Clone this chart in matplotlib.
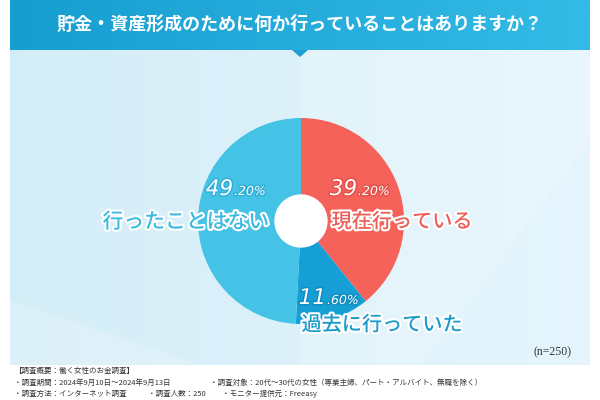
import matplotlib

matplotlib.use("Agg")

import matplotlib.pyplot as plt
import matplotlib.patheffects as pe
import numpy as np
from matplotlib.patches import Circle, Polygon

plt.rcParams["font.family"] = ["Noto Sans CJK JP", "DejaVu Sans"]

title = "貯金・資産形成のために何か行っていることはありますか？"
labels = ["現在行っている", "過去に行っていた", "行ったことはない"]
values = [39.2, 11.6, 49.2]
sample_note = "(n=250)"
footer_head = "【調査概要：働く女性のお金調査】"
footer_items = [
    ["・調査期間：2024年9月10日～2024年9月13日", "・調査対象：20代～30代の女性（専業主婦、パート・アルバイト、無職を除く）"],
    ["・調査方法：インターネット調査", "・調査人数：250", "・モニター提供元：Freeasy"],
]

slice_colors = ["#F5625A", "#159FD5", "#45C3E6"]
label_colors = ["#EC5F58", "#1C9BCB", "#3DBAE0"]
pct_edge = ["#E2504A", "#0F8DC0", "#2FAFD8"]

W, H = 600, 400
fig = plt.figure(figsize=(6, 4), dpi=100)
ax = fig.add_axes([0, 0, 1, 1])
ax.set_xlim(0, W)
ax.set_ylim(0, H)
ax.set_aspect("equal")
ax.axis("off")


def py(y):
    return H - y


# light background panel
grad = np.linspace(0, 1, 256)[None, :]
bg = np.ones((1, 256, 3))
c0 = np.array([0.83, 0.93, 0.97])
c1 = np.array([0.90, 0.96, 0.99])
bg[0] = c0 + (c1 - c0) * grad.T
ax.imshow(bg, extent=(10, 590, py(365), py(50)), aspect="auto", zorder=0)
ax.add_patch(Polygon([(300, py(50)), (590, py(50)), (590, py(140)), (420, py(365)), (300, py(365))],
                     closed=True, color="white", alpha=0.18, lw=0, zorder=0.5))
ax.add_patch(Polygon([(10, py(300)), (200, py(365)), (10, py(365))],
                     closed=True, color="white", alpha=0.2, lw=0, zorder=0.5))

# header band
hb = np.ones((1, 256, 3))
h0 = np.array([0.09, 0.62, 0.82])
h1 = np.array([0.20, 0.73, 0.90])
hb[0] = h0 + (h1 - h0) * grad.T
ax.imshow(hb, extent=(10, 590, py(50), py(0)), aspect="auto", zorder=1)
ax.add_patch(Polygon([(292, py(50)), (308, py(50)), (300, py(57))], closed=True,
                     color="#1D9FD2", lw=0, zorder=1))
ax.text(300, py(24), title, color="white", fontsize=13, fontweight="bold",
        ha="center", va="center", zorder=2)

# donut
cx, cy, r = 301, py(221), 103
ax.pie(values, colors=slice_colors, startangle=90, counterclock=False,
       center=(cx, cy), radius=r, frame=True,
       wedgeprops={"linewidth": 0, "antialiased": True})
ax.set_xlim(0, W)
ax.set_ylim(0, H)
ax.axis("off")
ax.add_patch(Circle((cx, cy), 26, color="white", zorder=5))

# labels
outline = [pe.Stroke(linewidth=3, foreground="white"), pe.Normal()]
label_pos = [(402, 222), (382, 325), (186, 222)]
label_size = [14.5, 14.5, 15]
for text, (x, y), col, fs in zip(labels, label_pos, label_colors, label_size):
    ax.text(x, py(y), text, color=col, fontsize=fs, fontweight="medium",
            ha="center", va="center", path_effects=outline, zorder=6)

pct_pos = [(357, 188), (326, 297), (233, 188)]
for v, (x, y), col in zip(values, pct_pos, pct_edge):
    whole, frac = f"{v:.2f}".split(".")
    eff = [pe.Stroke(linewidth=2, foreground=col), pe.Normal()]
    ax.text(x, py(y) - 7, whole, color="white", fontsize=15.5, fontstyle="italic",
            family="DejaVu Sans", ha="right", va="baseline", path_effects=eff, zorder=6)
    ax.text(x + 1, py(y) - 7, "." + frac + "%", color="white", fontsize=9,
            fontstyle="italic", family="DejaVu Sans", ha="left", va="baseline",
            path_effects=eff, zorder=6)

ax.text(572, py(352), sample_note, color="#333333", fontsize=8.5, family="Liberation Serif",
        ha="right", va="center", zorder=6)

# footer
ax.text(14, py(371), footer_head, color="#333333", fontsize=5.4, va="center")
for row, y, xs in zip(footer_items, [383, 394], [[14, 210], [14, 148, 222]]):
    for item, x in zip(row, xs):
        ax.text(x, py(y), item, color="#333333", fontsize=5.4, va="center")

fig.savefig("out.png", dpi=100)
